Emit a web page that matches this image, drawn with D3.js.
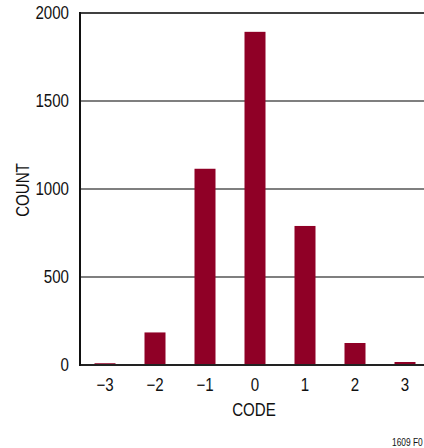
<!DOCTYPE html>
<html><head><meta charset="utf-8">
<script src="https://cdn.jsdelivr.net/npm/d3@7"></script>
<style>body{margin:0;background:#fff}svg{display:block}text{font-family:"Liberation Sans",Arial,sans-serif;}</style>
</head><body>
<svg id="c" width="424" height="448"></svg>
<script>
const codes = ["\u22123","\u22122","\u22121","0","1","2","3"];
const counts = [10, 185, 1115, 1893, 790, 125, 17];
const yTicks = [0, 500, 1000, 1500, 2000];

const svg = d3.select("#c");
const L = 80, T = 13, B = 365, R = 424;
const SX = 0.84;
const x = d3.scaleBand().domain(codes).range([L, L + 350]).paddingInner(0.58).paddingOuter(0.29);
const y = d3.scaleLinear().domain([0, 2000]).range([B, T]);

function narrow(sel, px, py, rot) {
  sel.attr("transform", `translate(${px},${py})` + (rot ? ` rotate(${rot})` : "") + ` scale(${SX},1)`);
  return sel;
}

// gridlines
svg.append("g").selectAll("line").data(yTicks.filter(d => d > 0)).join("line")
  .attr("x1", L).attr("x2", R).attr("y1", d => y(d)).attr("y2", d => y(d))
  .attr("stroke", "#000").attr("stroke-width", d => d === 2000 ? 1.5 : 1.2);

// bars
svg.append("g").selectAll("rect").data(counts).join("rect")
  .attr("x", (d, i) => x(codes[i])).attr("width", x.bandwidth())
  .attr("y", d => y(d)).attr("height", d => B - y(d))
  .attr("fill", "#8f0026");

// axes lines
svg.append("line").attr("x1", L).attr("x2", R).attr("y1", B).attr("y2", B).attr("stroke", "#222").attr("stroke-width", 2);
svg.append("line").attr("x1", L).attr("x2", L).attr("y1", T - 1).attr("y2", B + 1).attr("stroke", "#111").attr("stroke-width", 2);

// y tick labels
svg.append("g").selectAll("text").data(yTicks).join("text")
  .each(function(d){ narrow(d3.select(this), 69, y(d) + 6); })
  .attr("text-anchor", "end").attr("font-size", 18).attr("fill", "#111").text(d => d);

// x tick labels
svg.append("g").selectAll("text").data(codes).join("text")
  .each(function(d){ narrow(d3.select(this), x(d) + x.bandwidth() / 2, 391); })
  .attr("text-anchor", "middle").attr("font-size", 18).attr("fill", "#111").text(d => d);

narrow(svg.append("text"), 254, 416).attr("text-anchor", "middle")
  .attr("font-size", 18).attr("fill", "#111").text("CODE");
narrow(svg.append("text"), 29, 190, -90).attr("text-anchor", "middle")
  .attr("font-size", 18).attr("fill", "#111").text("COUNT");
narrow(svg.append("text"), 392, 446).attr("font-size", 10).attr("fill", "#111").text("1609 F0");
</script>
</body></html>
